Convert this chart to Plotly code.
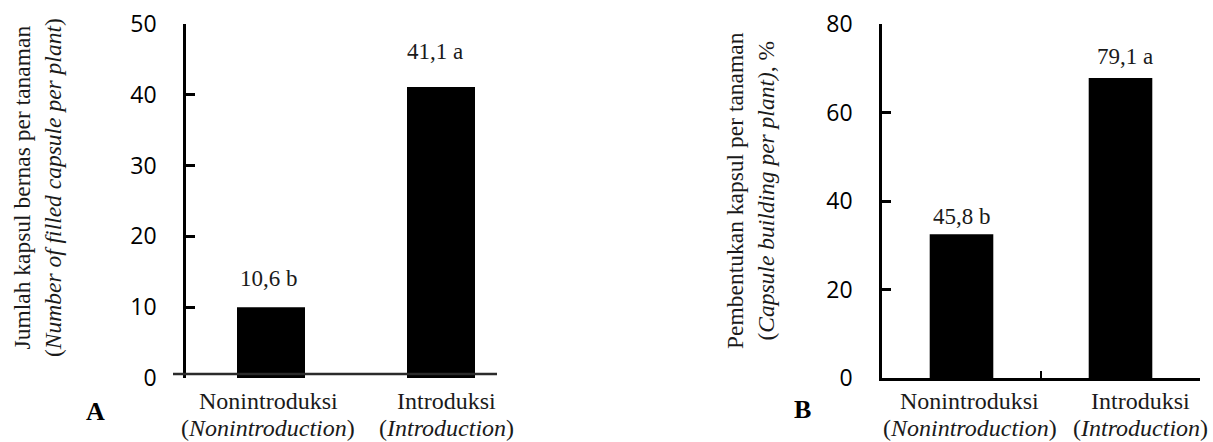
import plotly.graph_objects as go

# ---- data ----
categories = ["Nonintroduksi", "Introduksi"]
categories_en = ["Nonintroduction", "Introduction"]
filled_capsules = [10.0, 41.1]          # bar heights
filled_labels = ["10,6 b", "41,1 a"]
capsule_building = [32.5, 67.8]         # bar heights
building_labels = ["45,8 b", "79,1 a"]
left_ticks = [0, 10, 20, 30, 40, 50]
right_ticks = [0, 20, 40, 60, 80]
left_title = "Jumlah kapsul bernas per tanaman<br>(<i>Number of filled capsule per plant</i>)"
right_title = "Pembentukan kapsul per tanaman<br>(<i>Capsule building per plant)</i>, %"

W, H = 1213, 442
SERIF = "Liberation Serif"
SANS = "Open Sans"
TXT = "#1a1a1a"

def px(x):
    return x / W

def py(y):
    return 1 - y / H

fig = go.Figure()
fig.add_trace(go.Bar(x=categories, y=filled_capsules, marker=dict(color="black", line=dict(width=0)),
                     width=0.4, xaxis="x", yaxis="y", showlegend=False, hoverinfo="skip"))
fig.add_trace(go.Bar(x=categories, y=capsule_building, marker=dict(color="black", line=dict(width=0)),
                     width=0.4, xaxis="x2", yaxis="y2", showlegend=False, hoverinfo="skip"))

ydom = [py(378), py(24)]
yax_common = dict(showline=True, linecolor="black", linewidth=2.5, ticks="inside", ticklen=9,
                  tickwidth=2.5, tickcolor="black", showgrid=False, zeroline=False,
                  tickfont=dict(family=SANS, size=23, color="black"), ticklabelstandoff=22,
                  fixedrange=True, automargin=False)

fig.update_layout(
    width=W, height=H, margin=dict(l=0, r=0, t=0, b=0, autoexpand=False),
    paper_bgcolor="white", plot_bgcolor="white",
    xaxis=dict(domain=[px(186), px(526)], anchor="y", range=[-0.5, 1.5], showline=False, showgrid=False,
               zeroline=False, showticklabels=False, ticks="", automargin=False),
    yaxis=dict(domain=ydom, anchor="x", range=[0, 50], tickvals=left_ticks, **yax_common),
    xaxis2=dict(domain=[px(882), px(1200)], anchor="y2", range=[-0.5, 1.5], showline=True,
                linecolor="black", linewidth=2.5, showgrid=False, zeroline=False, showticklabels=False,
                ticks="inside", tickson="boundaries", ticklen=7, tickwidth=2, tickcolor="black",
                automargin=False),
    yaxis2=dict(domain=ydom, anchor="x2", range=[0, 80], tickvals=right_ticks, **yax_common),
)

# the offset baseline line of panel A
fig.add_shape(type="line", xref="paper", yref="y", x0=px(173), x1=px(497), y0=0.55, y1=0.55,
              line=dict(color="#2b2b2b", width=2.5))

# category labels (two lines each)
cat_shifts = {"x": [-3, 5], "x2": [8, 20]}
for xr in ("x", "x2"):
    for cat, en, dx in zip(categories, categories_en, cat_shifts[xr]):
        fig.add_annotation(x=cat, y=py(401), xref=xr, yref="paper", text=cat, showarrow=False,
                           xanchor="center", yanchor="middle", xshift=dx,
                           font=dict(family=SERIF, size=24, color=TXT))
        fig.add_annotation(x=cat, y=py(428), xref=xr, yref="paper", text=f"(<i>{en}</i>)", showarrow=False,
                           xanchor="center", yanchor="middle", xshift=dx,
                           font=dict(family=SERIF, size=24, color=TXT))

# value labels
shifts_left = [(-2, 14), (-6, 21)]
for cat, val, lab, (dx, dy) in zip(categories, filled_capsules, filled_labels, shifts_left):
    fig.add_annotation(x=cat, y=val, xref="x", yref="y", text=lab, showarrow=False,
                       yanchor="bottom", xshift=dx, yshift=dy,
                       font=dict(family=SERIF, size=23, color=TXT))
shifts_right = [(0, 3), (4, 7)]
for cat, val, lab, (dx, dy) in zip(categories, capsule_building, building_labels, shifts_right):
    fig.add_annotation(x=cat, y=val, xref="x2", yref="y2", text=lab, showarrow=False,
                       yanchor="bottom", xshift=dx, yshift=dy,
                       font=dict(family=SERIF, size=23, color=TXT))

# axis titles
fig.add_annotation(x=px(37), y=py(188), xref="paper", yref="paper", text=left_title, textangle=-90,
                   showarrow=False, xanchor="center", yanchor="middle",
                   font=dict(family=SERIF, size=23.5, color=TXT))
fig.add_annotation(x=px(750), y=py(191), xref="paper", yref="paper", text=right_title, textangle=-90,
                   showarrow=False, xanchor="center", yanchor="middle",
                   font=dict(family=SERIF, size=23.5, color=TXT))

# panel letters
fig.add_annotation(x=px(95), y=py(411), xref="paper", yref="paper", text="<b>A</b>", showarrow=False,
                   xanchor="center", yanchor="middle", font=dict(family=SERIF, size=26, color="black"))
fig.add_annotation(x=px(802), y=py(409), xref="paper", yref="paper", text="<b>B</b>", showarrow=False,
                   xanchor="center", yanchor="middle", font=dict(family=SERIF, size=26, color="black"))

fig.write_html("out.html", config={"displayModeBar": False},
               post_script="document.body.style.margin='0';document.body.style.overflow='hidden';")
